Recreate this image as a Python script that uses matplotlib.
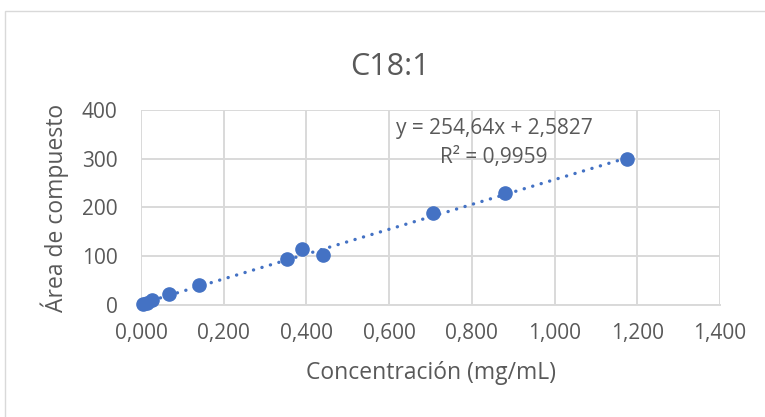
import numpy as np
import matplotlib.pyplot as plt
from matplotlib.ticker import FuncFormatter, MultipleLocator
from matplotlib.patches import Rectangle

# Calibration data: concentration (mg/mL) vs peak area
concentracion = [0.006, 0.014, 0.027, 0.068, 0.140, 0.352, 0.390, 0.439, 0.705, 0.881, 1.176]
area = [2, 5, 10, 22, 40, 94, 115.5, 102, 188, 229, 299]

# Linear trendline reported for the series
pendiente = 254.64
intercepto = 2.5827
r2 = 0.9959

titulo = "C18:1"
x_label = "Concentración (mg/mL)"
y_label = "Área de compuesto"

texto_color = "#595959"
azul = "#4472C4"

plt.rcParams['font.family'] = ['Open Sans', 'DejaVu Sans']

fig = plt.figure(figsize=(7.65, 4.17), dpi=100)
ax = fig.add_axes([0.1843, 0.2686, 0.9412 - 0.1843, 0.7362 - 0.2686])

# outer chart frame
fig.patches.append(Rectangle((5 / 765, -0.05), 1.2, 1 - 11 / 417 + 0.05,
                             transform=fig.transFigure, fill=False,
                             edgecolor="#d9d9d9", linewidth=1.0))

xs = np.array([min(concentracion), max(concentracion)])
ax.plot(xs, pendiente * xs + intercepto, linestyle=(0, (0.05, 2.6)),
        dash_capstyle='round', color=azul, linewidth=2.4, zorder=2)
ax.plot(concentracion, area, 'o', color=azul, markersize=9.5, zorder=3, clip_on=False)

ax.set_xlim(0, 1.4)
ax.set_ylim(0, 400)
ax.xaxis.set_major_locator(MultipleLocator(0.2))
ax.yaxis.set_major_locator(MultipleLocator(100))
ax.xaxis.set_major_formatter(FuncFormatter(lambda v, p: f"{v:.3f}".replace(".", ",")))
ax.yaxis.set_major_formatter(FuncFormatter(lambda v, p: f"{v:.0f}"))

ax.grid(True, color="#d9d9d9", linewidth=1.4)
ax.set_axisbelow(True)
for lado in ["top", "right", "left"]:
    ax.spines[lado].set_visible(False)
ax.spines["bottom"].set_color("#d9d9d9")
ax.spines["bottom"].set_linewidth(1.4)
ax.tick_params(length=0, labelsize=15, colors=texto_color)
ax.tick_params(axis='y', pad=17)
ax.tick_params(axis='x', pad=13)

ax.set_xlabel(x_label, fontsize=16.5, color=texto_color, labelpad=12)
ax.set_ylabel(y_label, fontsize=16.5, color=texto_color, labelpad=9)
fig.text(0.51, 0.84, titulo, fontsize=22, color=texto_color, ha='center', va='center')

ax.text(0.61, 0.905, f"y = {pendiente:.2f}x + {intercepto:.4f}".replace(".", ","),
        transform=ax.transAxes, ha='center', va='center', fontsize=15, color=texto_color)
ax.text(0.61, 0.755, f"R² = {r2:.4f}".replace(".", ","),
        transform=ax.transAxes, ha='center', va='center', fontsize=15, color=texto_color)

fig.savefig("out.png", dpi=100)
